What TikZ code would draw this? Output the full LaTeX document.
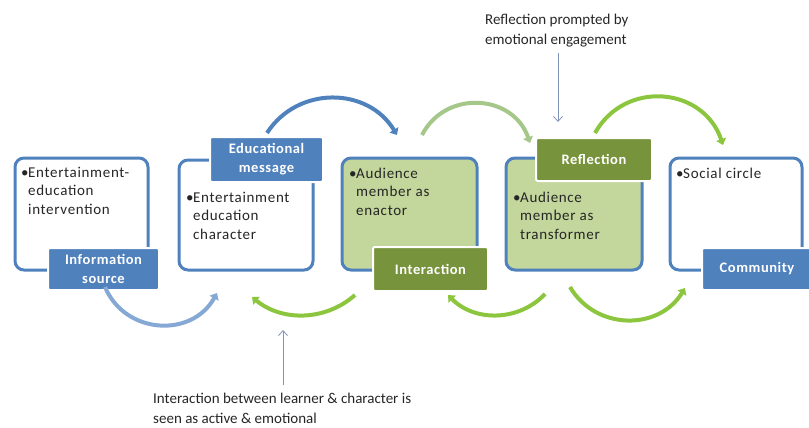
\documentclass[tikz,border=0pt]{standalone}
\usepackage{fontspec}
\setmainfont{Carlito}
\newfontfamily\boxfont[LetterSpace=4.5]{Carlito}
\newfontfamily\labfont[LetterSpace=4]{Carlito}
\usetikzlibrary{arrows.meta}
\definecolor{oblue}{HTML}{4F81BD}
\definecolor{ogreen}{HTML}{77933C}
\definecolor{lgreen}{HTML}{C3D69B}
\definecolor{arcgreen}{HTML}{8CC63E}
\definecolor{palegreen}{HTML}{A5C78A}
\definecolor{paleblue}{HTML}{86A8D4}
\definecolor{notearrow}{HTML}{8393B8}
\definecolor{txt}{HTML}{262626}
\newcommand\bul{\makebox[7pt][l]{•}}
\newcommand\ind{\hspace*{7pt}}
\begin{document}
\begin{tikzpicture}[x=1pt,y=-1pt,
  box/.style={draw=oblue, line width=3pt, rounded corners=9pt, inner sep=0pt},
  lab/.style={fill=#1, draw=white, line width=2pt, rounded corners=2pt, text=white,
    font=\labfont\fontsize{14.5}{19}\selectfont\bfseries, align=center, inner sep=0pt},
  btxt/.style={anchor=base west, inner sep=0pt, align=left, text=txt,
    font=\boxfont\fontsize{15}{18.5}\selectfont},
  note/.style={anchor=base west, inner sep=0pt, align=left, text=txt,
    font=\fontsize{15}{20}\selectfont},
  arc/.style={line width=4pt, -{Triangle[length=6pt,width=10pt]}},
  pointer/.style={draw=notearrow, line width=0.8pt, -{Straight Barb[length=5pt,width=9pt]}}
]
\path[use as bounding box] (0,0) rectangle (809,428);
\clip (0,0) rectangle (809,428);

% boxes
\node[box, minimum width=133pt, minimum height=112pt] (b1) at (81.5,214) {};
\node[box, minimum width=134pt, minimum height=110pt] (b2) at (246,215) {};
\node[box, fill=lgreen, minimum width=135pt, minimum height=112pt] (b3) at (409.5,214) {};
\node[box, fill=lgreen, minimum width=136pt, minimum height=112pt] (b4) at (574,214) {};
\node[box, minimum width=132pt, minimum height=112pt] (b5) at (736,214) {};

% box texts (anchored at the baseline of the last line)
\node[btxt] (t1) at (21,214) {\bul Entertainment-\\\ind education\\\ind intervention};
\node[btxt] (t2) at (186,239) {\bul Entertainment\\\ind education\\\ind character};
\node[btxt] (t3) at (349,215) {\bul Audience\\\ind member as\\\ind enactor};
\node[btxt] (t4) at (513,239) {\bul Audience\\\ind member as\\\ind transformer};
\node[btxt] (t5) at (676,178) {\bul Social circle};

% labels
\node[lab=oblue, minimum width=111pt, minimum height=42pt] (l1) at (103.5,269) {Information\\source};
\node[lab=oblue, minimum width=113pt, minimum height=45pt] (l2) at (266.5,159.5) {Educational\\message};
\node[lab=ogreen, minimum width=115pt, minimum height=44pt] (l3) at (430.5,269) {Interaction};
\node[lab=ogreen, minimum width=116pt, minimum height=43pt] (l4) at (594,159.5) {Reflection};
\node[lab=oblue, minimum width=110pt, minimum height=42pt] (l5) at (757,269) {Community};

% top arcs
\coordinate (a1s) at (267,133); \coordinate (a1e) at (397,135);
\coordinate (a2s) at (422,135); \coordinate (a2e) at (530,143);
\coordinate (a3s) at (595,133); \coordinate (a3e) at (723,145);
\draw[arc, oblue] (a1s) to[bend left=58, looseness=1.11] (a1e);
\draw[arc, palegreen] (a2s) to[bend left=67, looseness=1.22] (a2e);
\draw[arc, arcgreen] (a3s) to[bend left=66, looseness=1.22] (a3e);

% bottom arcs
\coordinate (c1s) at (105,287); \coordinate (c1e) at (217,293);
\coordinate (c2s) at (355,295); \coordinate (c2e) at (252,297);
\coordinate (c3s) at (545,294); \coordinate (c3e) at (448,295);
\coordinate (c4s) at (570,287); \coordinate (c4e) at (685,288);
\draw[arc, paleblue] (c1s) to[bend right=64, looseness=1.18] (c1e);
\draw[arc, arcgreen] (c2s) to[bend left=40.5, looseness=0.97] (c2e);
\draw[arc, arcgreen] (c3s) to[bend left=46, looseness=1.0] (c3e);
\draw[arc, arcgreen] (c4s) to[bend right=59, looseness=1.12] (c4e);

% notes
\node[note] (n1) at (485,45) {Reflection prompted by\\emotional engagement};
\coordinate (n1a) at (558,53); \coordinate (n1b) at (558,122);
\draw[pointer] (n1a) -- (n1b);
\node[note] (n2) at (153,423) {Interaction between learner \& character is\\seen as active \& emotional};
\coordinate (n2a) at (283,385); \coordinate (n2b) at (283,330);
\draw[pointer] (n2a) -- (n2b);
\end{tikzpicture}
\end{document}
